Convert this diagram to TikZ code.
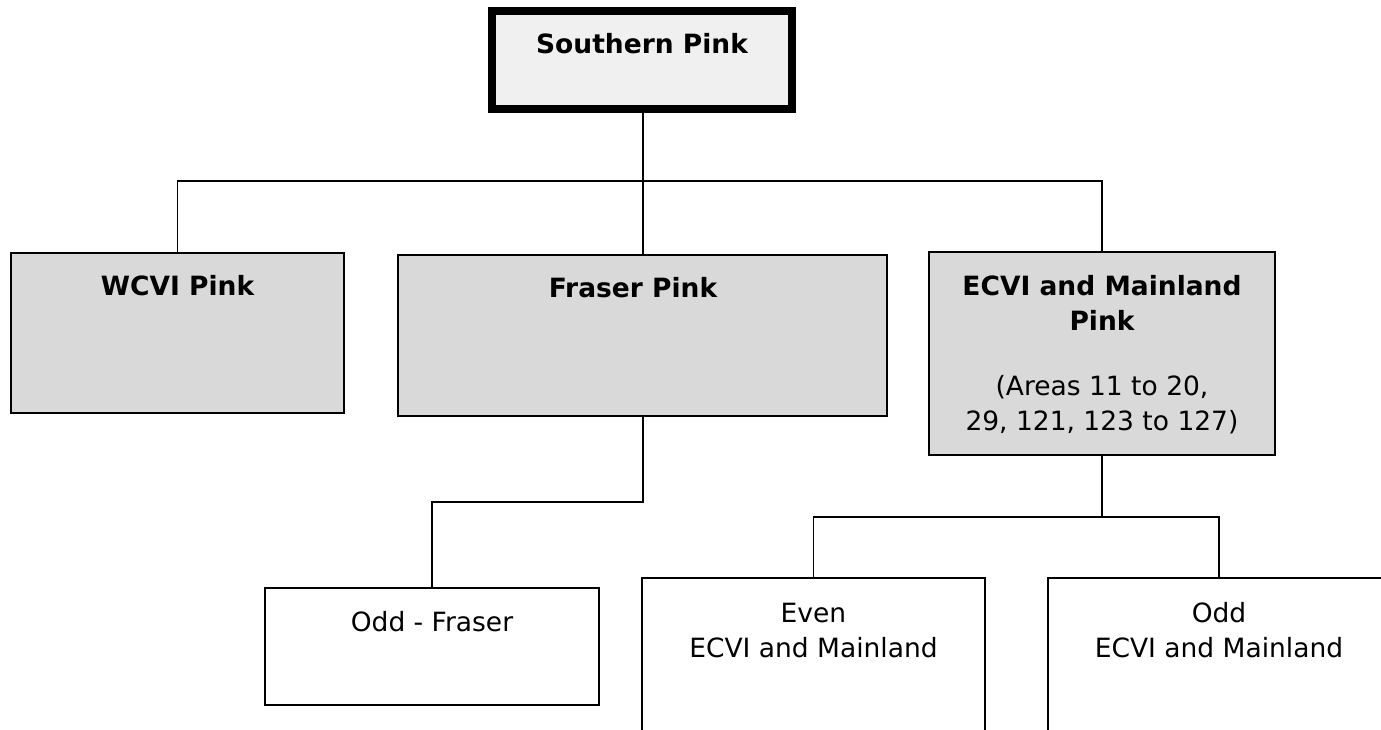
\documentclass[tikz,border=0pt]{standalone}
\usepackage{fontspec}
\setmainfont{DejaVu Sans}
\usetikzlibrary{calc}
\definecolor{toplight}{HTML}{F0F0F0}
\definecolor{midgrey}{HTML}{D9D9D9}
\tikzset{
  boxbase/.style={draw=black, line width=1.6pt, inner sep=0pt, outer sep=0pt},
  topbox/.style={boxbase, line width=8pt, fill=toplight},
  greybox/.style={boxbase, fill=midgrey},
  whitebox/.style={boxbase, fill=white},
  conn/.style={draw=black, line width=1.8pt},
  lbl/.style={anchor=base, inner sep=0pt, font=\fontsize{26.5}{35}\selectfont},
}
\begin{document}
\begin{tikzpicture}[x=1pt,y=-1pt]
\useasboundingbox (0,0) rectangle (1381,729);
\clip (0,0) rectangle (1381,729);
\fill[white] (0,0) rectangle (1381,729);
\setlength{\tabcolsep}{0pt}

% boxes
\node[topbox, minimum width=300pt, minimum height=98pt] (top) at (642,60) {};
\node[greybox, minimum width=333pt, minimum height=160pt] (wcvi) at (177.5,333) {};
\node[greybox, minimum width=489pt, minimum height=161pt] (fraser) at (642.5,335.5) {};
\node[greybox, minimum width=346pt, minimum height=203pt] (ecvi) at (1102,353.5) {};
\node[whitebox, minimum width=334pt, minimum height=117pt] (oddf) at (432,646.5) {};
\node[whitebox, minimum width=343pt, minimum height=180pt] (even) at (813.5,668) {};
\node[whitebox, minimum width=342pt, minimum height=180pt] (odd) at (1219,668) {};

% texts
\node[lbl] (toptxt) at (642,53) {\bfseries Southern Pink};
\node[lbl] (wcvitxt) at (177.5,295) {\bfseries WCVI Pink};
\node[lbl] (frasertxt) at (633,297) {\bfseries Fraser Pink};
\node[lbl] (ecvitxt) at (1102,295) {\begin{tabular}[t]{@{}c@{}}\bfseries ECVI and Mainland\\ \bfseries Pink\\[30pt] (Areas 11 to 20,\\ 29, 121, 123 to 127)\end{tabular}};
\node[lbl] (oddftxt) at (432,631) {Odd - Fraser};
\node[lbl] (eventxt) at (813.5,622) {\begin{tabular}[t]{@{}c@{}}Even\\ ECVI and Mainland\end{tabular}};
\node[lbl] (oddtxt) at (1219,622) {\begin{tabular}[t]{@{}c@{}}Odd\\ ECVI and Mainland\end{tabular}};

% connectors
\coordinate (bar) at (643,181);
\coordinate (fbend) at (643,502);
\coordinate (ebar) at (1102,517);
\draw[conn] (top.south -| bar) -- (bar) -- (fraser.north -| bar);
\draw[conn] (wcvi.north) |- (bar) -| (ecvi.north);
\draw[conn] (fraser.south -| fbend) -- (fbend) -| (oddf.north);
\draw[conn] (ecvi.south) -- (ebar);
\draw[conn] (even.north) |- (ebar) -| (odd.north);
\end{tikzpicture}
\end{document}
